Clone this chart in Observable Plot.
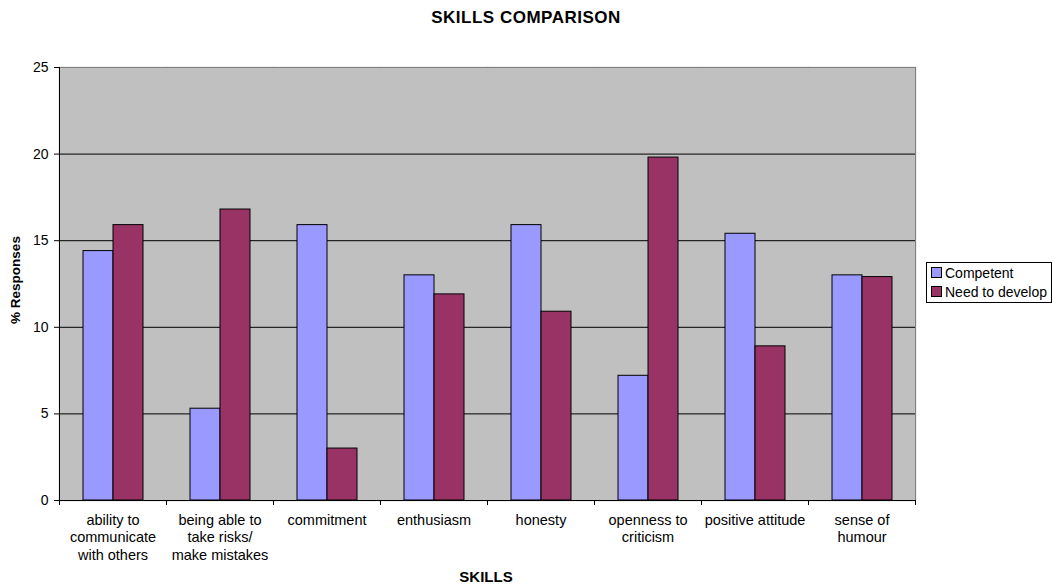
<!DOCTYPE html>
<html>
<head>
<meta charset="utf-8">
<script src="https://cdn.jsdelivr.net/npm/d3@7"></script>
<script src="https://cdn.jsdelivr.net/npm/@observablehq/plot@0.6"></script>
<style>
  body { margin: 0; background: white; font-family: Arial, "Liberation Sans", sans-serif; }
  #wrap { position: relative; width: 1052px; height: 584px; }
  #title { position: absolute; left: 0; top: 8px; width: 1052px; text-align: center; font-weight: bold; font-size: 17px; letter-spacing: 0.5px; line-height: 20px; }
  #chart { position: absolute; left: 0; top: 40px; }
  #ylabel { position: absolute; left: 15px; top: 280px; transform: translate(-50%, -50%) rotate(-90deg); font-weight: bold; font-size: 13.5px; white-space: nowrap; }
  #xlabel { position: absolute; left: 486px; top: 568px; transform: translateX(-50%); font-weight: bold; font-size: 15px; line-height: 18px; }
  #legend { position: absolute; left: 926px; top: 262px; width: 124px; height: 39px; border: 1px solid black; font-size: 14px; }
  .item { display: flex; align-items: center; height: 19px; padding-left: 4px; white-space: nowrap; }
  .sw { width: 11px; height: 11px; border: 1px solid black; margin-right: 3px; box-sizing: border-box; flex: none; }
</style>
</head>
<body>
<div id="wrap">
  <div id="title">SKILLS COMPARISON</div>
  <div id="chart"></div>
  <div id="ylabel">% Responses</div>
  <div id="xlabel">SKILLS</div>
  <div id="legend"></div>
</div>
<script>
const categories = ["ability", "risks", "commitment", "enthusiasm", "honesty", "openness", "positive", "humour"];
const categoryLabels = ["ability to\ncommunicate\nwith others", "being able to\ntake risks/\nmake mistakes", "commitment", "enthusiasm", "honesty", "openness to\ncriticism", "positive attitude", "sense of\nhumour"];
const series = ["Competent", "Need to develop"];
const competent = [14.4, 5.3, 15.9, 13.0, 15.9, 7.2, 15.4, 13.0];
const needToDevelop = [15.9, 16.8, 3.0, 11.9, 10.9, 19.8, 8.9, 12.9];
const yTicks = [0, 5, 10, 15, 20, 25];
const colors = ["#9999ff", "#993366"];

const data = [];
categories.forEach((c, i) => {
  data.push({category: c, series: series[0], value: competent[i]});
  data.push({category: c, series: series[1], value: needToDevelop[i]});
});

const W = 1052, H = 544, ml = 59, mr = 137, mt = 27, mb = 84;
const step = (W - ml - mr) / categories.length;

const chart = Plot.plot({
  width: W, height: H,
  marginLeft: ml, marginRight: mr, marginTop: mt, marginBottom: mb,
  style: {fontFamily: "Arial, 'Liberation Sans', sans-serif", fontSize: "14px", color: "black", background: "white"},
  fx: {domain: categories, padding: 0, label: null},
  x: {domain: series, paddingInner: 0, paddingOuter: 0.783, axis: null},
  y: {domain: [0, 25], label: null},
  color: {domain: series, range: colors},
  marks: [
    Plot.frame({fill: "#c0c0c0", stroke: "#c0c0c0", strokeWidth: 1.5}),
    Plot.gridY(yTicks.filter(t => t > 0 && t < 25), {stroke: "black", strokeOpacity: 1}),
    Plot.ruleY([25], {stroke: "#808080"}),
    Plot.barY(data, {fx: "category", x: "series", y: "value", fill: "series", stroke: "black", strokeWidth: 1}),
    Plot.ruleY([0], {stroke: "black"}),
    Plot.frame({anchor: "left", facetAnchor: "left", stroke: "black"}),
    Plot.frame({anchor: "right", facetAnchor: "right", stroke: "#808080"}),
    Plot.axisY({ticks: yTicks, tickSize: 5, tickPadding: 6, label: null}),
    Plot.axisFx({anchor: "bottom", tickSize: 0, tickPadding: 12, lineHeight: 1.2, fontSize: 14.5, label: null,
      tickFormat: c => categoryLabels[categories.indexOf(c)]}),
    Plot.axisFx({anchor: "bottom", tickSize: 5, text: null, dx: -step / 2, label: null}),
    Plot.axisFx({anchor: "bottom", ticks: [categories[categories.length - 1]], tickSize: 5, text: null, dx: step / 2, label: null})
  ]
});
document.getElementById("chart").appendChild(chart);

const legend = document.getElementById("legend");
series.forEach((s, i) => {
  const row = document.createElement("div");
  row.className = "item";
  const sw = document.createElement("span");
  sw.className = "sw";
  sw.style.background = colors[i];
  const t = document.createElement("span");
  t.textContent = s;
  row.appendChild(sw);
  row.appendChild(t);
  legend.appendChild(row);
});
</script>
</body>
</html>
